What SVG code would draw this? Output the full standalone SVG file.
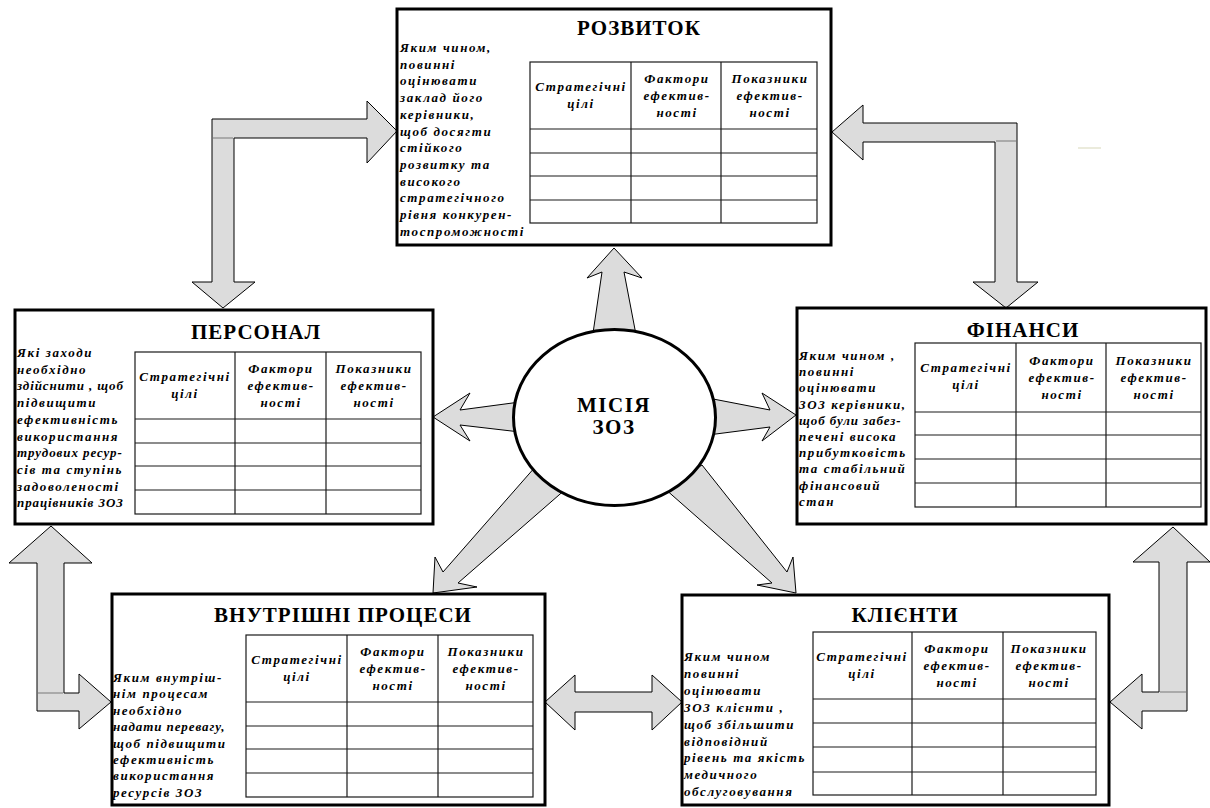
<svg xmlns="http://www.w3.org/2000/svg" width="1210" height="808" viewBox="0 0 1210 808">
<style>
.box{fill:#fff;stroke:#000;stroke-width:3}
.tbl{fill:none;stroke:#1a1a1a;stroke-width:1.2}
.arr{fill:#dcdcdc;stroke:#000;stroke-width:1;stroke-linejoin:miter}
.seam{stroke:#9a9a9a;stroke-width:1.5}
.ttl{font-family:"Liberation Serif","DejaVu Serif",serif;font-weight:bold;font-size:21px;text-anchor:middle;letter-spacing:1px;fill:#000}
.q{font-family:"Liberation Serif","DejaVu Serif",serif;font-weight:bold;font-style:italic;font-size:13px;letter-spacing:1.6px;fill:#000}
.tight{letter-spacing:0.9px}
.h{font-family:"Liberation Serif","DejaVu Serif",serif;font-weight:bold;font-style:italic;font-size:13px;letter-spacing:1.6px;text-anchor:middle;fill:#000}
.mis{font-family:"Liberation Serif","DejaVu Serif",serif;font-weight:bold;font-size:21px;letter-spacing:1.5px;text-anchor:middle;fill:#000}
</style>

<g id="connectors">
  <polygon class="arr" points="592,340 602,272 587,278 614,248 642,278 624,272 637,340"/>
  <polygon class="arr" points="520,402 460,410 470,393 433,417 470,441 460,425 520,432"/>
  <polygon class="arr" points="708,398 770,410 762,393 796,415 762,441 770,427 708,435"/>
  <polygon class="arr" points="536,466 443,572 435,557 433,593 477,587 458,583 567,488"/>
  <polygon class="arr" points="664,488 772,583 757,585 796,593 793,557 787,572 702,465"/>
  <polygon class="arr" points="212,119 367,119 367,101 397,131 367,163 367,138 234,138 234,282 255,282 223,308 192,282 212,282"/>
  <line class="seam" x1="213" y1="138" x2="233" y2="138"/>
  <polygon class="arr" points="1017,123 863,123 863,105 832,132 863,160 863,142 995,142 995,282 973,282 1006,308 1038,282 1017,282"/>
  <line class="seam" x1="996" y1="141" x2="1016" y2="141"/>
  <line x1="1078" y1="148" x2="1101" y2="148" stroke="#e4e4d0" stroke-width="1.5"/>
  <polygon class="arr" points="37,711 37,563 9,563 51,526 92,563 64,563 64,693 79,693 79,674 111,702 79,729 79,711"/>
  <line class="seam" x1="38" y1="693" x2="63" y2="693"/>
  <polygon class="arr" points="1187,711 1187,562 1210,562 1173,527 1133,562 1159,562 1159,692 1142,692 1142,674 1110,702 1142,729 1142,711"/>
  <line class="seam" x1="1160" y1="692" x2="1186" y2="692"/>
  <polygon class="arr" points="545,702 575,675 575,692 652,692 652,675 682,702 652,730 652,712 575,712 575,730"/>
</g>

<g id="mission">
  <ellipse cx="614.5" cy="417.5" rx="101" ry="88" fill="#fff" stroke="#000" stroke-width="3"/>
  <text class="mis" x="614" y="412">МІСІЯ</text>
  <text class="mis" x="614" y="434">ЗОЗ</text>
</g>

<g id="rozvytok">
  <rect class="box" x="397" y="9" width="434" height="236"/>
  <text class="ttl" x="639" y="35">РОЗВИТОК</text>
  <text class="q">
    <tspan x="400" y="52">Яким чином,</tspan>
    <tspan x="400" dy="16.7">повинні</tspan>
    <tspan x="400" dy="16.7">оцінювати</tspan>
    <tspan x="400" dy="16.7">заклад його</tspan>
    <tspan x="400" dy="16.7">керівники,</tspan>
    <tspan x="400" dy="16.7">щоб досягти</tspan>
    <tspan x="400" dy="16.7">стійкого</tspan>
    <tspan x="400" dy="16.7">розвитку та</tspan>
    <tspan x="400" dy="16.7">високого</tspan>
    <tspan x="400" dy="16.7">стратегічного</tspan>
    <tspan x="400" dy="16.7">рівня конкурен-</tspan>
    <tspan x="400" dy="16.7">тоспроможності</tspan>
  </text>
  <g class="tbl">
    <rect x="530" y="62" width="287" height="161"/>
    <line x1="530" y1="129" x2="817" y2="129"/>
    <line x1="530" y1="153" x2="817" y2="153"/>
    <line x1="530" y1="176" x2="817" y2="176"/>
    <line x1="530" y1="200" x2="817" y2="200"/>
    <line x1="631" y1="62" x2="631" y2="223"/>
    <line x1="721" y1="62" x2="721" y2="223"/>
  </g>
  <text class="h" x="581" y="91">Стратегічні</text>
  <text class="h" x="581" y="108">цілі</text>
  <text class="h" x="677" y="83">Фактори</text>
  <text class="h" x="677" y="100">ефектив-</text>
  <text class="h" x="677" y="117">ності</text>
  <text class="h" x="770" y="83">Показники</text>
  <text class="h" x="770" y="100">ефектив-</text>
  <text class="h" x="770" y="117">ності</text>
</g>

<g id="personal">
  <rect class="box" x="15" y="310" width="418" height="214"/>
  <text class="ttl" x="256" y="339">ПЕРСОНАЛ</text>
  <text class="q">
    <tspan x="17" y="357">Які заходи</tspan>
    <tspan x="17" dy="16.7">необхідно</tspan>
    <tspan x="17" dy="16.7" class="tight">здійснити , щоб</tspan>
    <tspan x="17" dy="16.7">підвищити</tspan>
    <tspan x="17" dy="16.7">ефективність</tspan>
    <tspan x="17" dy="16.7">використання</tspan>
    <tspan x="17" dy="16.7" class="tight">трудових ресур-</tspan>
    <tspan x="17" dy="16.7">сів та ступінь</tspan>
    <tspan x="17" dy="16.7">задоволеності</tspan>
    <tspan x="17" dy="16.7" class="tight">працівників ЗОЗ</tspan>
  </text>
  <g class="tbl">
    <rect x="135" y="352" width="286" height="162"/>
    <line x1="135" y1="419" x2="421" y2="419"/>
    <line x1="135" y1="443" x2="421" y2="443"/>
    <line x1="135" y1="466" x2="421" y2="466"/>
    <line x1="135" y1="490" x2="421" y2="490"/>
    <line x1="235" y1="352" x2="235" y2="514"/>
    <line x1="326" y1="352" x2="326" y2="514"/>
  </g>
  <text class="h" x="185" y="381">Стратегічні</text>
  <text class="h" x="185" y="398">цілі</text>
  <text class="h" x="281" y="373">Фактори</text>
  <text class="h" x="281" y="390">ефектив-</text>
  <text class="h" x="281" y="407">ності</text>
  <text class="h" x="374" y="373">Показники</text>
  <text class="h" x="374" y="390">ефектив-</text>
  <text class="h" x="374" y="407">ності</text>
</g>

<g id="finansy">
  <rect class="box" x="797" y="308" width="409" height="216"/>
  <text class="ttl" x="1023" y="337">ФІНАНСИ</text>
  <text class="q">
    <tspan x="799" y="360">Яким чином ,</tspan>
    <tspan x="799" dy="16.2">повинні</tspan>
    <tspan x="799" dy="16.2">оцінювати</tspan>
    <tspan x="799" dy="16.2">ЗОЗ керівники,</tspan>
    <tspan x="799" dy="16.2" class="tight">щоб були забез-</tspan>
    <tspan x="799" dy="16.2">печені висока</tspan>
    <tspan x="799" dy="16.2">прибутковість</tspan>
    <tspan x="799" dy="16.2">та стабільний</tspan>
    <tspan x="799" dy="16.2">фінансовий</tspan>
    <tspan x="799" dy="16.2">стан</tspan>
  </text>
  <g class="tbl">
    <rect x="915" y="343" width="286" height="164"/>
    <line x1="915" y1="412" x2="1201" y2="412"/>
    <line x1="915" y1="435" x2="1201" y2="435"/>
    <line x1="915" y1="459" x2="1201" y2="459"/>
    <line x1="915" y1="483" x2="1201" y2="483"/>
    <line x1="1016" y1="343" x2="1016" y2="507"/>
    <line x1="1106" y1="343" x2="1106" y2="507"/>
  </g>
  <text class="h" x="966" y="372">Стратегічні</text>
  <text class="h" x="966" y="389">цілі</text>
  <text class="h" x="1062" y="365">Фактори</text>
  <text class="h" x="1062" y="382">ефектив-</text>
  <text class="h" x="1062" y="399">ності</text>
  <text class="h" x="1154" y="365">Показники</text>
  <text class="h" x="1154" y="382">ефектив-</text>
  <text class="h" x="1154" y="399">ності</text>
</g>

<g id="procesy">
  <rect class="box" x="112" y="594" width="433" height="211"/>
  <text class="ttl" x="343" y="622">ВНУТРІШНІ ПРОЦЕСИ</text>
  <text class="q">
    <tspan x="113" y="682">Яким внутріш-</tspan>
    <tspan x="113" dy="16.4">нім процесам</tspan>
    <tspan x="113" dy="16.4">необхідно</tspan>
    <tspan x="113" dy="16.4" class="tight">надати перевагу,</tspan>
    <tspan x="113" dy="16.4">щоб підвищити</tspan>
    <tspan x="113" dy="16.4">ефективність</tspan>
    <tspan x="113" dy="16.4">використання</tspan>
    <tspan x="113" dy="16.4">ресурсів ЗОЗ</tspan>
  </text>
  <g class="tbl">
    <rect x="246" y="635" width="287" height="162"/>
    <line x1="246" y1="702" x2="533" y2="702"/>
    <line x1="246" y1="726" x2="533" y2="726"/>
    <line x1="246" y1="749" x2="533" y2="749"/>
    <line x1="246" y1="773" x2="533" y2="773"/>
    <line x1="347" y1="635" x2="347" y2="797"/>
    <line x1="438" y1="635" x2="438" y2="797"/>
  </g>
  <text class="h" x="297" y="664">Стратегічні</text>
  <text class="h" x="297" y="681">цілі</text>
  <text class="h" x="393" y="656">Фактори</text>
  <text class="h" x="393" y="673">ефектив-</text>
  <text class="h" x="393" y="690">ності</text>
  <text class="h" x="486" y="656">Показники</text>
  <text class="h" x="486" y="673">ефектив-</text>
  <text class="h" x="486" y="690">ності</text>
</g>

<g id="kliienty">
  <rect class="box" x="682" y="595" width="427" height="210"/>
  <text class="ttl" x="905" y="622">КЛІЄНТИ</text>
  <text class="q">
    <tspan x="684" y="661">Яким чином</tspan>
    <tspan x="684" dy="16.9">повинні</tspan>
    <tspan x="684" dy="16.9">оцінювати</tspan>
    <tspan x="684" dy="16.9">ЗОЗ клієнти ,</tspan>
    <tspan x="684" dy="16.9">щоб збільшити</tspan>
    <tspan x="684" dy="16.9">відповідний</tspan>
    <tspan x="684" dy="16.9">рівень та якість</tspan>
    <tspan x="684" dy="16.9">медичного</tspan>
    <tspan x="684" dy="16.9">обслуговування</tspan>
  </text>
  <g class="tbl">
    <rect x="813" y="632" width="283" height="163"/>
    <line x1="813" y1="699" x2="1096" y2="699"/>
    <line x1="813" y1="723" x2="1096" y2="723"/>
    <line x1="813" y1="747" x2="1096" y2="747"/>
    <line x1="813" y1="772" x2="1096" y2="772"/>
    <line x1="912" y1="632" x2="912" y2="795"/>
    <line x1="1003" y1="632" x2="1003" y2="795"/>
  </g>
  <text class="h" x="862" y="661">Стратегічні</text>
  <text class="h" x="862" y="678">цілі</text>
  <text class="h" x="957" y="653">Фактори</text>
  <text class="h" x="957" y="670">ефектив-</text>
  <text class="h" x="957" y="687">ності</text>
  <text class="h" x="1049" y="653">Показники</text>
  <text class="h" x="1049" y="670">ефектив-</text>
  <text class="h" x="1049" y="687">ності</text>
</g>
</svg>
